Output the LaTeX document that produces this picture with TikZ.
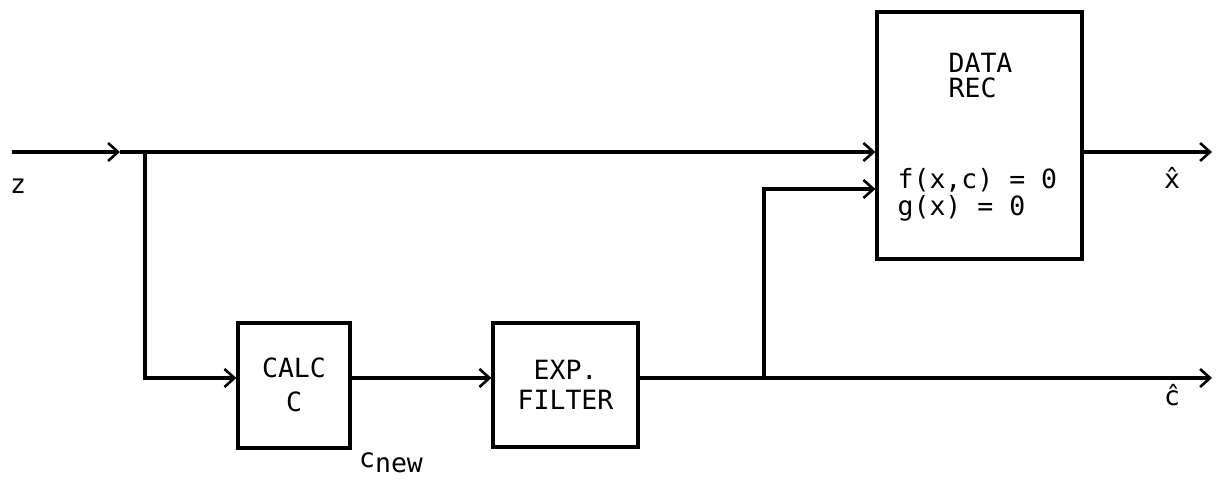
\documentclass[tikz,border=0pt]{standalone}
\usepackage{fontspec}
\setmainfont{DejaVu Sans Mono}
\usetikzlibrary{arrows.meta}
\begin{document}
\begin{tikzpicture}[x=1pt,y=-1pt, line width=3.2pt,
  box/.style={draw, rectangle, inner sep=0pt, line width=3.2pt},
  lbl/.style={inner sep=0pt, font=\fontsize{26.5}{30}\selectfont},
  arr/.style={-{Straight Barb[length=10pt,width=18pt,line width=2.6pt]}}]
\useasboundingbox (0,0) rectangle (1216,481);
% boxes
\node[box, minimum width=112pt, minimum height=125pt] (calc) at (294,385.5) {};
\node[box, minimum width=145pt, minimum height=124pt] (exp) at (565.5,385) {};
\node[box, minimum width=205pt, minimum height=247pt] (data) at (979.5,135.5) {};
% texts
\node[lbl, align=center, font=\fontsize{26.5}{34}\selectfont] (calct) at (294,385) {CALC\\C};
\node[lbl, align=center, font=\fontsize{26.5}{30}\selectfont] (expt) at (565.5,385) {EXP.\\FILTER};
\node[lbl, align=left, anchor=west, font=\fontsize{26.5}{25.5}\selectfont] (datat) at (947,75.5) {DATA\\REC};
\node[lbl, align=left, anchor=west, font=\fontsize{26.5}{26.5}\selectfont] (eqt) at (896,195) {f(x,c) = 0\\g(x) = 0};
\node[lbl] (zl) at (18,186) {z};
\node[lbl] (xl) at (1172,178) {\^{x}};
\node[lbl] (cl) at (1172,395) {\^{c}};
\node[lbl] (cnew) at (391,463) {c\raisebox{-5pt}{new}};
% coordinates
\coordinate (zin) at (12,152);
\coordinate (a1) at (120,152);
\coordinate (j0) at (145,152);
\coordinate (j1) at (145,378);
\coordinate (j2) at (764,378);
\coordinate (j3) at (764,189);
\coordinate (xout) at (1212,152);
\coordinate (cout) at (1212,378);
% connectors
\draw[arr] (zin) -- (a1);
\draw[arr] (a1) -- (a1 -| data.west);
\draw[arr] (j0) -- (j1) -- (j1 -| calc.west);
\draw[arr] (calc.east |- j1) -- (exp.west |- j1);
\draw[arr] (exp.east |- j1) -- (cout);
\draw[arr] (j2) -- (j3) -- (j3 -| data.west);
\draw[arr] (data.east |- xout) -- (xout);
\end{tikzpicture}
\end{document}
